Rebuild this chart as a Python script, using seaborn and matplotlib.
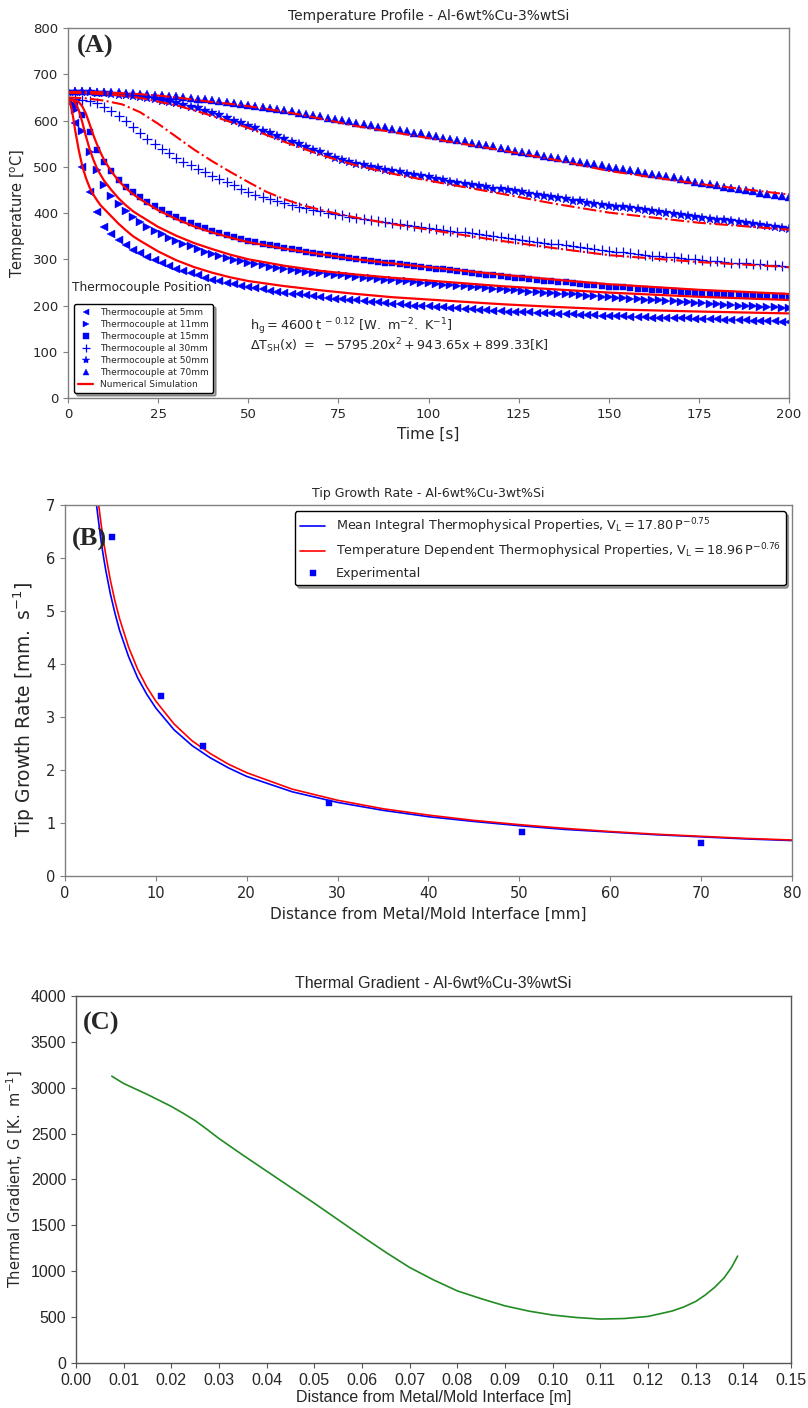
import matplotlib
matplotlib.use("Agg")
import matplotlib.pyplot as plt
import seaborn as sns

# ---------------- (A) temperature profile ----------------
time_exp = list(range(0, 201, 2))

tc_5mm = [640, 595, 500, 445, 402, 370, 354, 341, 330, 321,
          313, 306, 299, 292, 286, 280, 275, 270, 265, 260,
          256, 252, 249, 246, 243, 240, 237, 235, 232, 230,
          228, 226, 224, 222, 220, 219, 217, 215, 214, 212,
          211, 209, 208, 207, 205, 204, 203, 201, 200, 199,
          198, 197, 196, 195, 194, 193, 192, 191, 190, 189,
          188, 187, 186, 186, 185, 184, 184, 183, 182, 181,
          181, 180, 180, 179, 178, 178, 177, 177, 176, 175,
          175, 174, 174, 173, 173, 172, 172, 171, 171, 170,
          170, 169, 169, 168, 168, 167, 167, 166, 166, 165,
          165]
tc_11mm = [640, 623, 578, 532, 492, 460, 437, 419, 404, 391,
           380, 370, 362, 354, 347, 340, 334, 328, 322, 316,
           311, 307, 303, 299, 296, 293, 290, 287, 284, 281,
           279, 277, 275, 273, 271, 270, 268, 266, 265, 263,
           262, 260, 259, 257, 256, 255, 253, 252, 250, 249,
           248, 247, 245, 244, 243, 242, 240, 239, 238, 236,
           235, 234, 233, 231, 230, 229, 228, 227, 226, 225,
           224, 223, 221, 220, 219, 218, 217, 216, 215, 214,
           213, 212, 211, 210, 209, 208, 207, 206, 205, 204,
           203, 202, 201, 200, 199, 198, 197, 196, 196, 195,
           194]
tc_15mm = [642, 634, 612, 576, 537, 510, 490, 472, 457, 445,
           434, 424, 415, 406, 398, 391, 385, 379, 373, 367,
           362, 357, 352, 348, 344, 340, 337, 334, 331, 328,
           325, 322, 319, 316, 313, 311, 309, 307, 305, 303,
           301, 299, 297, 295, 293, 291, 289, 287, 285, 283,
           281, 279, 278, 276, 274, 272, 271, 269, 267, 266,
           264, 262, 260, 259, 257, 256, 254, 253, 251, 250,
           248, 247, 245, 244, 242, 241, 240, 239, 237, 236,
           235, 234, 233, 232, 231, 230, 229, 228, 227, 226,
           225, 225, 224, 223, 223, 222, 221, 221, 220, 220,
           219]
tc_30mm = [648, 647, 645, 642, 637, 630, 621, 610, 598, 585,
           573, 561, 550, 539, 529, 520, 511, 503, 495, 488,
           481, 474, 467, 460, 453, 446, 440, 435, 430, 426,
           422, 418, 414, 410, 407, 404, 401, 398, 395, 392,
           389, 387, 384, 382, 380, 378, 376, 374, 372, 370,
           368, 366, 364, 362, 360, 358, 356, 354, 352, 350,
           348, 346, 344, 342, 340, 338, 336, 334, 332, 330,
           328, 326, 324, 322, 320, 318, 316, 315, 313, 311,
           310, 308, 307, 305, 304, 302, 301, 300, 298, 297,
           296, 294, 293, 292, 291, 290, 289, 288, 287, 285,
           284]
tc_50mm = [662, 662, 661, 661, 660, 659, 658, 656, 655, 653,
           651, 649, 646, 643, 640, 637, 634, 630, 626, 621,
           616, 611, 605, 600, 594, 588, 583, 577, 572, 566,
           560, 554, 549, 543, 537, 531, 525, 520, 515, 511,
           507, 503, 500, 497, 494, 491, 488, 485, 482, 480,
           477, 474, 471, 468, 466, 463, 461, 458, 456, 453,
           451, 449, 447, 445, 442, 440, 437, 435, 432, 430,
           427, 425, 422, 420, 418, 416, 414, 412, 410, 408,
           406, 404, 402, 400, 398, 396, 394, 392, 390, 388,
           386, 384, 382, 380, 378, 376, 374, 372, 370, 368,
           366]
tc_70mm = [663, 663, 663, 663, 662, 662, 661, 661, 660, 659,
           658, 657, 656, 655, 653, 652, 650, 649, 647, 646,
           644, 642, 640, 638, 636, 634, 632, 630, 627, 625,
           622, 620, 617, 615, 612, 609, 606, 604, 601, 598,
           595, 592, 590, 587, 585, 582, 579, 577, 574, 572,
           569, 566, 563, 561, 558, 555, 552, 549, 547, 544,
           541, 538, 535, 533, 530, 527, 524, 521, 519, 516,
           513, 510, 508, 505, 503, 500, 497, 495, 492, 490,
           487, 484, 482, 479, 477, 474, 471, 468, 466, 463,
           460, 457, 455, 452, 450, 447, 444, 442, 439, 437,
           434]

# numerical simulation, thermocouples close to the mold (solid)
time_sim = [0, 0.5, 1, 1.5, 2, 3, 4, 5, 6, 7, 8, 9, 10, 12, 14, 16, 18, 20,
            25, 30, 35, 40, 45, 50, 60, 70, 80, 90, 100, 110, 120, 135, 150,
            175, 200]
sim_5mm = [645, 640, 625, 603, 578, 535, 500, 475, 455, 440, 428, 417, 409,
           393, 377, 363, 350, 340, 317, 298, 283, 271, 261, 253, 242, 233,
           225, 218, 213, 208, 203, 197, 192, 187, 183]
sim_11mm = [645, 645, 644, 643, 638, 622, 595, 565, 538, 516, 497, 483, 470,
            450, 432, 417, 404, 394, 370, 351, 335, 322, 310, 300, 286, 275,
            267, 260, 254, 248, 242, 235, 228, 219, 212]
sim_15mm = [645, 645, 645, 644, 643, 640, 630, 614, 592, 569, 549, 531, 515,
            490, 470, 454, 441, 430, 406, 387, 371, 358, 347, 337, 323, 311,
            300, 291, 283, 275, 267, 256, 246, 234, 225]

# numerical simulation, far thermocouples (dash-dot)
time_sim_far = [0, 5, 10, 15, 20, 25, 30, 35, 40, 45, 50, 55, 60, 65, 70, 75,
                80, 90, 100, 110, 120, 135, 150, 175, 200]
sim_30mm = [650, 648, 643, 635, 618, 593, 565, 537, 512, 489, 467, 446, 430,
            417, 407, 398, 390, 376, 364, 352, 340, 324, 309, 294, 283]
sim_50mm = [660, 659, 657, 654, 649, 641, 633, 622, 610, 597, 584, 569, 554,
            540, 526, 514, 503, 485, 470, 456, 442, 420, 401, 379, 364]
sim_70mm = [662, 662, 661, 659, 657, 654, 650, 645, 640, 636, 631, 625, 619,
            612, 604, 596, 588, 575, 562, 549, 536, 515, 491, 463, 440]

# ---------------- (B) tip growth rate ----------------
pos_mean = [3.4, 3.5, 3.75, 4, 4.25, 4.5, 5, 5.5, 6, 7, 8, 9, 10, 12, 14, 16,
            18, 20, 25, 30, 35, 40, 45, 50, 55, 60, 65, 70, 75, 80]
vl_mean = [7.11, 6.96, 6.62, 6.29, 6.01, 5.76, 5.32, 4.96, 4.64, 4.14, 3.74,
           3.43, 3.17, 2.76, 2.46, 2.23, 2.04, 1.88, 1.59, 1.39, 1.24, 1.12,
           1.03, 0.95, 0.88, 0.83, 0.78, 0.74, 0.70, 0.67]
pos_temp = [3.6, 3.7, 3.85, 4, 4.25, 4.5, 5, 5.5, 6, 7, 8, 9, 10, 12, 14, 16,
            18, 20, 25, 30, 35, 40, 45, 50, 55, 60, 65, 70, 75, 80]
vl_temp = [7.16, 7.02, 6.81, 6.61, 6.31, 6.05, 5.58, 5.19, 4.86, 4.32, 3.90,
           3.57, 3.30, 2.87, 2.55, 2.31, 2.11, 1.95, 1.64, 1.43, 1.27, 1.15,
           1.05, 0.97, 0.90, 0.84, 0.79, 0.75, 0.71, 0.68]
pos_exp = [5.2, 10.6, 15.2, 29.1, 50.3, 70.0]
vl_exp = [6.39, 3.39, 2.45, 1.37, 0.84, 0.62]

# ---------------- (C) thermal gradient ----------------
pos_grad = [0.0075, 0.010, 0.0125, 0.015, 0.0175, 0.020, 0.0225, 0.025,
            0.0275, 0.030, 0.035, 0.040, 0.045, 0.050, 0.055, 0.060, 0.065,
            0.070, 0.075, 0.080, 0.085, 0.090, 0.095, 0.100, 0.105, 0.110,
            0.115, 0.120, 0.125, 0.1275, 0.130, 0.132, 0.134, 0.136, 0.1375,
            0.1388]
grad = [3125, 3045, 2985, 2925, 2860, 2795, 2720, 2640, 2545, 2445, 2265,
        2090, 1915, 1740, 1560, 1380, 1205, 1040, 905, 785, 700, 622, 565,
        522, 495, 478, 484, 507, 565, 610, 670, 740, 825, 930, 1040, 1165]


def draw(ax, x, y, **kw):
    sns.lineplot(x=x, y=y, ax=ax, estimator=None, sort=False, legend=False, **kw)


def frame(ax, color):
    for s in ax.spines.values():
        s.set_color(color)
        s.set_linewidth(1.0)
    ax.tick_params(direction='out', length=3.5, width=0.8, color=color)


sns.set_theme(style="ticks")
plt.rcParams['font.family'] = ['DejaVu Sans']
plt.rcParams['mathtext.fontset'] = 'dejavusans'

fig = plt.figure(figsize=(8.08, 14.08), dpi=100)
axA = fig.add_axes([0.0842, 0.7173, 0.8923, 0.2628])
axB = fig.add_axes([0.0804, 0.3778, 0.8998, 0.2635])
axC = fig.add_axes([0.0941, 0.0320, 0.8849, 0.2607])

# ---- A ----
exp_series = [(tc_5mm, '<', 5.6, 'Thermocouple at 5mm'),
              (tc_11mm, '>', 5.6, 'Thermocouple at 11mm'),
              (tc_15mm, 's', 5.0, 'Thermocouple at 15mm'),
              (tc_30mm, '+', 6.5, 'Thermocouple al 30mm'),
              (tc_50mm, '*', 7.0, 'Thermocouple at 50mm'),
              (tc_70mm, '^', 5.6, 'Thermocouple at 70mm')]
for vals, mk, ms, lab in exp_series:
    mew = 0.9 if mk == '+' else 0.3
    draw(axA, time_exp, vals, color='blue', marker=mk, markersize=ms,
         markeredgewidth=mew, markeredgecolor='blue', linestyle='', label=lab)

draw(axA, time_sim, sim_5mm, color='red', linewidth=1.6, label='Numerical Simulation')
draw(axA, time_sim, sim_11mm, color='red', linewidth=1.6)
draw(axA, time_sim, sim_15mm, color='red', linewidth=1.6)
for vals in (sim_30mm, sim_50mm, sim_70mm):
    draw(axA, time_sim_far, vals, color='red', linewidth=1.5, linestyle='-.')

axA.set_xlim(0, 200)
axA.set_ylim(0, 800)
axA.set_xticks(range(0, 201, 25))
axA.set_yticks(range(0, 801, 100))
axA.tick_params(labelsize=9.5)
frame(axA, '#808080')
axA.set_title('Temperature Profile - Al-6wt%Cu-3%wtSi', fontsize=10)
axA.set_xlabel('Time [s]', fontsize=11)
axA.set_ylabel(r'Temperature [$^{\mathregular{o}}$C]', fontsize=10.5)

h, l = axA.get_legend_handles_labels()
axA.legend(h, l, loc='lower left', bbox_to_anchor=(0.008, 0.013), borderaxespad=0,
           fontsize=6.5, frameon=True, shadow=True, fancybox=True, edgecolor='black',
           framealpha=1, labelspacing=0.33, handlelength=1.7, handletextpad=0.8,
           borderpad=0.45, markerscale=0.85)
axA.text(0.006, 0.30, 'Thermocouple Position', transform=axA.transAxes,
         fontsize=8.8, va='center', ha='left')
axA.text(0.252, 0.193, r'$\mathregular{h_g = 4600\,t^{\ -0.12}\ [W.\ m^{-2}.\ K^{-1}]}$',
         transform=axA.transAxes, fontsize=9.3, va='center', ha='left')
axA.text(0.252, 0.141,
         r'$\mathregular{\Delta T_{SH}(x)\ =\ -5795.20x^2 + 943.65x + 899.33[K]}$',
         transform=axA.transAxes, fontsize=9.2, va='center', ha='left')
axA.text(0.012, 0.949, '(A)', transform=axA.transAxes, fontsize=19,
         fontweight='bold', family='Liberation Serif', va='center', ha='left')

# ---- B ----
draw(axB, pos_mean, vl_mean, color='blue', linewidth=1.2,
     label=r'Mean Integral Thermophysical Properties, $\mathregular{V_L = 17.80\,P^{-0.75}}$')
draw(axB, pos_temp, vl_temp, color='red', linewidth=1.2,
     label=r'Temperature Dependent Thermophysical Properties, $\mathregular{V_L = 18.96\,P^{-0.76}}$')
draw(axB, pos_exp, vl_exp, color='blue', marker='s', markersize=4.5,
     markeredgewidth=0.3, markeredgecolor='blue', linestyle='', label='Experimental')
axB.set_xlim(0, 80)
axB.set_ylim(0, 7)
axB.set_xticks(range(0, 81, 10))
axB.set_yticks(range(0, 8))
axB.tick_params(labelsize=10.5)
frame(axB, '#808080')
axB.set_title('Tip Growth Rate - Al-6wt%Cu-3wt%Si', fontsize=9)
axB.set_xlabel('Distance from Metal/Mold Interface [mm]', fontsize=11)
axB.set_ylabel(r'Tip Growth Rate [$\mathregular{mm.\ s^{-1}}$]', fontsize=13.5)
axB.yaxis.set_label_coords(-0.039, 0.45)
h, l = axB.get_legend_handles_labels()
axB.legend(h, l, loc='upper right', fontsize=9.2, frameon=True, shadow=True,
           fancybox=True, edgecolor='black', framealpha=1, labelspacing=0.45)
axB.text(0.009, 0.908, '(B)', transform=axB.transAxes, fontsize=19,
         fontweight='bold', family='Liberation Serif', va='center', ha='left')

# ---- C ----
draw(axC, pos_grad, grad, color='forestgreen', linewidth=1.2)
axC.set_xlim(0, 0.15)
axC.set_ylim(0, 4000)
xt = [i / 100 for i in range(0, 16)]
axC.set_xticks(xt)
axC.set_xticklabels(['%.2f' % v for v in xt])
axC.set_yticks(range(0, 4001, 500))
axC.tick_params(labelsize=11.5)
for lbl in axC.get_xticklabels() + axC.get_yticklabels():
    lbl.set_fontfamily('Liberation Sans')
frame(axC, '#555555')
axC.set_title('Thermal Gradient - Al-6wt%Cu-3%wtSi', fontsize=11.5,
              family='Liberation Sans')
axC.set_xlabel('Distance from Metal/Mold Interface [m]', fontsize=11.5,
               family='Liberation Sans', labelpad=2)
axC.set_ylabel(r'Thermal Gradient, G [$\mathregular{K.\ m^{-1}}$]', fontsize=10.5)
axC.text(0.009, 0.924, '(C)', transform=axC.transAxes, fontsize=19,
         fontweight='bold', family='Liberation Serif', va='center', ha='left')

fig.savefig('out.png', dpi=100)
